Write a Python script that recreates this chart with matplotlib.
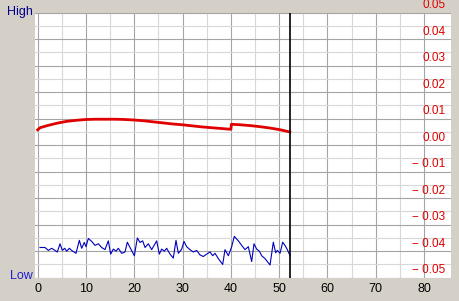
import matplotlib
matplotlib.use("Agg")
import matplotlib.pyplot as plt
import numpy as np

# red trace (right axis values)
red_x = [0, 0.5, 2, 4, 6, 8, 10, 12, 14, 16, 18, 20, 22, 24, 26, 28, 30,
         32, 34, 36, 38, 40, 40.1, 42, 44, 46, 48, 50, 52.2]
red_y = [0.0058, 0.0066, 0.0074, 0.0083, 0.0090, 0.0094, 0.0097, 0.0098,
         0.0098, 0.0098, 0.0097, 0.0095, 0.0092, 0.0088, 0.0084, 0.0080,
         0.0077, 0.0073, 0.0069, 0.0066, 0.0063, 0.0060, 0.0079, 0.0077,
         0.0074, 0.0070, 0.0065, 0.0059, 0.0050]

# blue trace
blue_x = [0.48, 1.51, 2.2, 2.89, 3.58, 4.06, 4.62, 5.10, 5.58, 6.0, 6.55,
          7.03, 7.93, 8.62, 9.10, 9.65, 10.0, 10.48, 11.17, 11.86, 12.55,
          13.24, 13.93, 14.62, 15.11, 15.66, 16.21, 16.69, 17.39, 18.07,
          18.56, 19.11, 20.01, 20.63, 21.18, 21.73, 22.22, 22.9, 23.6,
          24.63, 25.18, 25.67, 26.22, 26.7, 27.39, 28.08, 28.63, 29.12,
          29.81, 30.29, 30.84, 31.53, 32.22, 32.91, 33.6, 34.29, 34.98,
          35.67, 36.23, 36.71, 37.4, 38.3, 38.78, 39.47, 40.16, 40.71,
          41.54, 42.23, 42.92, 43.61, 44.3, 44.78, 45.33, 45.89, 46.37,
          47.06, 47.54, 48.1, 48.78, 49.27, 49.61, 50.17, 50.72, 51.2,
          51.68, 52.24]
blue_y = [-0.0386, -0.0386, -0.0397, -0.0389, -0.0397, -0.0403, -0.0372,
          -0.0397, -0.0389, -0.0400, -0.0389, -0.0397, -0.0408, -0.0359,
          -0.0389, -0.0367, -0.0383, -0.0352, -0.0363, -0.0378, -0.0372,
          -0.0386, -0.0394, -0.0361, -0.0411, -0.0392, -0.0400, -0.0389,
          -0.0408, -0.0403, -0.0366, -0.0386, -0.0417, -0.0350, -0.0367,
          -0.0361, -0.0386, -0.0372, -0.0394, -0.0361, -0.0411, -0.0392,
          -0.0400, -0.0389, -0.0411, -0.0426, -0.0359, -0.0408, -0.0392,
          -0.0363, -0.0383, -0.0394, -0.0403, -0.0397, -0.0414, -0.0420,
          -0.0411, -0.0403, -0.0417, -0.0408, -0.0428, -0.0450, -0.0394,
          -0.0417, -0.0383, -0.0344, -0.0361, -0.0378, -0.0394, -0.0383,
          -0.0439, -0.0372, -0.0392, -0.0400, -0.0417, -0.0428, -0.0439,
          -0.0452, -0.0366, -0.0406, -0.0397, -0.0408, -0.0366, -0.0378,
          -0.0394, -0.0417]

cursor_x = 52.2
x_ticks = [0, 10, 20, 30, 40, 50, 60, 70, 80]
y_ticks = [0.05, 0.04, 0.03, 0.02, 0.01, 0.0, -0.01, -0.02, -0.03, -0.04, -0.05]

fnt = ['Liberation Sans', 'DejaVu Sans']

fig = plt.figure(figsize=(4.59, 3.01), dpi=100)
fig.patch.set_facecolor('#d4d0c8')
ax = fig.add_axes([35 / 459, 1 - 277.7 / 301, 416 / 459, 265 / 301])
ax.set_facecolor('white')
ax.set_xlim(-0.56, 85.57)
ax.set_ylim(-0.05, 0.05)
for s in ax.spines.values():
    s.set_visible(False)

# grid
for gx in np.arange(0, 81, 5):
    c = '#a4a4a4' if gx % 10 == 0 else '#d8d8d8'
    ax.axvline(gx, color=c, lw=0.8, zorder=1)
for gy in np.arange(-10, 11):
    c = '#a4a4a4' if gy % 2 == 0 else '#d8d8d8'
    ax.axhline(gy * 0.005, color=c, lw=0.8, zorder=1)

ax.plot(red_x, red_y, color='#e00000', lw=2.0, zorder=3)
ax.plot(blue_x, blue_y, color='#0000c0', lw=0.8, zorder=3)
ax.axvline(cursor_x, color='black', lw=1.2, zorder=4)

ax.set_xticks(x_ticks)
ax.set_xticklabels([str(t) for t in x_ticks], family=fnt, fontsize=9)
ax.tick_params(axis='x', length=0, pad=4)
ax.set_yticks([])

tr = ax.get_yaxis_transform()
for v in y_ticks:
    lab = f'{v:.2f}' if v >= 0 else f'\u2212 {abs(v):.2f}'
    if abs(v) < 1e-9:
        lab = '0.00'
    ax.annotate(lab, xy=(0.987, v), xycoords=tr, xytext=(0, 1.2),
                textcoords='offset points', ha='right', va='bottom',
                color='#e00000', fontsize=8.5, family=fnt, zorder=5)

fig.text(33 / 459, 1 - 12 / 301, 'High', ha='right', va='center',
         color='#000090', fontsize=9, family=fnt)
fig.text(33 / 459, 1 - 276 / 301, 'Low', ha='right', va='center',
         color='#2020c8', fontsize=9, family=fnt)

fig.savefig('out.png', dpi=100, facecolor=fig.get_facecolor())
